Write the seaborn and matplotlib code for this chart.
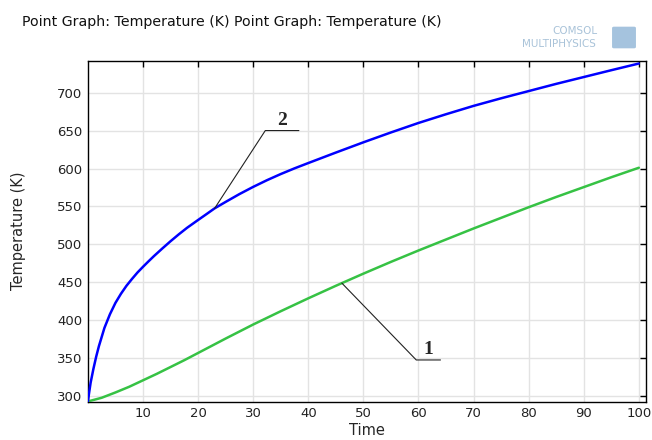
import numpy as np
import pandas as pd
import matplotlib
matplotlib.use("Agg")
import matplotlib.pyplot as plt
import seaborn as sns

# ---- data ----
time_1 = [0, 2.5, 5, 7.5, 10, 12.5, 15, 17.5, 20, 25, 30, 35, 40, 45, 50, 55, 60, 65,
          70, 75, 80, 85, 90, 95, 100]
temp_1 = [293.15, 298, 305, 312.5, 321, 329.5, 338.5, 347.5, 357, 376, 394.5, 412, 429,
          445.5, 461.5, 477, 492, 506.5, 521, 535, 549, 562.5, 575.5, 588.5, 601]

time_2 = [0, 0.25, 0.5, 1, 1.5, 2, 3, 4, 5, 6, 7, 8, 9, 10, 11, 12, 13.5, 15, 16.5, 18,
          20, 21.5, 23, 25, 27.5, 30, 32.5, 35, 37.5, 40, 45, 50, 55, 60, 65, 70, 75,
          80, 85, 90, 95, 100]
temp_2 = [293.15, 306, 318, 336, 352, 366, 390, 408, 423, 435, 445.5, 454.5, 463, 470.5,
          477.7, 484.7, 494.6, 504.2, 513.3, 521.9, 532.2, 539.8, 547.5, 556, 566.3,
          575.8, 584.6, 592.7, 600.2, 607.2, 621, 634.5, 647.5, 660, 671.5, 682.5,
          692.5, 702, 711.5, 720.5, 729.5, 738.3]

x_ticks = [10, 20, 30, 40, 50, 60, 70, 80, 90, 100]
y_ticks = [300, 350, 400, 450, 500, 550, 600, 650, 700]

title_text = "Point Graph: Temperature (K) Point Graph: Temperature (K)"
x_label = "Time"
y_label = "Temperature (K)"
labels = ["1", "2"]

# ---- figure ----
sns.set_style("white")
plt.rcParams['font.family'] = ['DejaVu Sans']

fig = plt.figure(figsize=(6.52, 4.40), dpi=100)
ax = fig.add_axes([0.1348, 0.087, 0.9908 - 0.1348, 0.862 - 0.087])

df1 = pd.DataFrame({"Time": time_1, "T": temp_1})
df2 = pd.DataFrame({"Time": time_2, "T": temp_2})
sns.lineplot(data=df1, x="Time", y="T", ax=ax, color="#36c244", lw=1.8, zorder=3)
sns.lineplot(data=df2, x="Time", y="T", ax=ax, color="#0000ff", lw=1.8, zorder=3)

ax.set_xlim(0, 101.3)
ax.set_ylim(292.8, 742)
ax.set_xticks(x_ticks)
ax.set_yticks(y_ticks)
ax.grid(True, color="#e3e3e3", lw=1.0, zorder=0)
ax.set_axisbelow(True)
ax.tick_params(direction="in", length=4, width=1, top=True, right=True,
               labelsize=9.5, colors="black", labelcolor="#222222", pad=4)
for s in ax.spines.values():
    s.set_color("black")
    s.set_linewidth(1.0)

ax.set_xlabel(x_label, fontsize=10.5, labelpad=2)
ax.set_ylabel(y_label, fontsize=10.5, labelpad=22)

# annotations: leader lines and labels
ax.plot([46.1, 59.6, 64.0], [449.0, 347.8, 347.8], color="#222222", lw=0.8, zorder=4)
ax.text(61.8, 350, labels[0], fontsize=14, fontweight="bold",
        family="Liberation Serif", ha="center", va="bottom", zorder=5)
ax.plot([23.0, 32.2, 38.3], [547.5, 650, 650], color="#222222", lw=0.8, zorder=4)
ax.text(35.3, 652, labels[1], fontsize=14, fontweight="bold",
        family="Liberation Serif", ha="center", va="bottom", zorder=5)

# title
fig.text(22 / 652, 1 - 22 / 440, title_text, fontsize=10.2, ha="left", va="center",
         color="#111111")

# COMSOL logo text
fig.text(575 / 652, 1 - 31 / 440, "COMSOL", fontsize=7.5, ha="center", va="center",
         color="#a9c3d9")
fig.text(559 / 652, 1 - 44 / 440, "MULTIPHYSICS", fontsize=7.5, ha="center", va="center",
         color="#a9c3d9")
fig.patches.append(matplotlib.patches.FancyBboxPatch(
    (614 / 652, 1 - 47 / 440), 20 / 652, 19 / 440, boxstyle="round,pad=0.003",
    transform=fig.transFigure, facecolor="#8fb5d6", edgecolor="none", alpha=0.8))

fig.savefig("out.png", dpi=100)
